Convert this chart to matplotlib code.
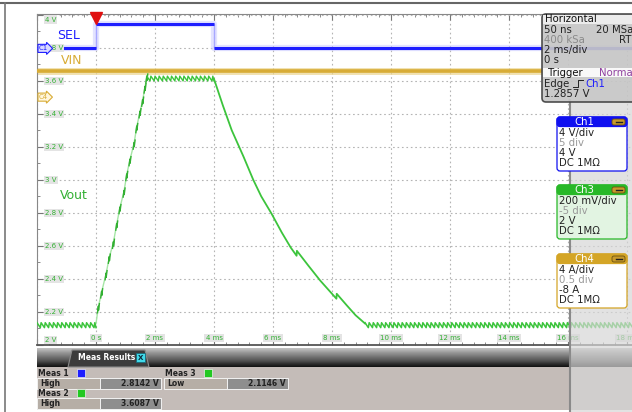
import matplotlib
matplotlib.use('Agg')
import matplotlib.pyplot as plt
import numpy as np
from matplotlib.patches import Rectangle, FancyBboxPatch, Polygon

# Datos (tiempo en ms, tension en V de la escala de Ch3)
x_ticks = [0, 2, 4, 6, 8, 10, 12, 14, 16, 18]
x_labels = ['0 s', '2 ms', '4 ms', '6 ms', '8 ms', '10 ms', '12 ms', '14 ms', '16 ms', '18 ms']
y_ticks = [2.0, 2.2, 2.4, 2.6, 2.8, 3.0, 3.2, 3.4, 3.6, 3.8, 4.0]
y_labels = ['2 V', '2.2 V', '2.4 V', '2.6 V', '2.8 V', '3 V', '3.2 V', '3.4 V', '3.6 V', '3.8 V', '4 V']

# SEL (Ch1)
sel_t = [-2.0, 0.0, 0.0, 4.0, 4.0, 18.2]
sel_v = [3.795, 3.795, 3.944, 3.944, 3.795, 3.795]

# VIN (Ch4)
vin_t = [-2.0, 0.0, 1.0, 2.5, 4.0, 5.5, 7.0, 9.0, 11.0, 14.0, 18.2]
vin_v = [3.661, 3.660, 3.661, 3.660, 3.661, 3.660, 3.661, 3.660, 3.661, 3.660, 3.661]

# Vout (Ch3): subida escalonada
rise_t = [0.0, 0.08, 0.19, 0.34, 0.45, 0.59, 0.70, 0.81, 0.95, 1.04, 1.15, 1.29, 1.38, 1.49, 1.58, 1.66, 1.72]
rise_v = [2.13, 2.23, 2.32, 2.43, 2.53, 2.62, 2.73, 2.83, 2.93, 3.03, 3.12, 3.22, 3.32, 3.41, 3.48, 3.56, 3.62]
# Vout: descarga
fall_t = [4.0, 4.3, 4.6, 5.0, 5.33, 5.6, 5.95, 6.3, 6.6, 6.8, 6.81, 7.2, 7.6, 8.0, 8.15, 8.16, 8.5, 8.8, 9.12]
fall_v = [3.61, 3.45, 3.30, 3.14, 3.00, 2.90, 2.795, 2.68, 2.59, 2.54, 2.57, 2.48, 2.39, 2.31, 2.28, 2.31, 2.24, 2.18, 2.13]
# Rizado
low_rip = (2.105, 2.135)
top_rip = (3.598, 3.627)
rip_period = 0.14

meas_names = ['Meas 1', 'Meas 2', 'Meas 3']
meas_kind = ['High', 'High', 'Low']
meas_vals = ['2.8142 V', '3.6087 V', '2.1146 V']

W, H = 632, 412
GREEN = '#3cc43c'
LGREEN = '#33b033'
BLUE = '#1e1eff'
GOLD = '#d8ac36'


def sierra(t0, t1, lo, hi, period):
    # diente de sierra: baja lento y sube rapido
    ts, vs = [], []
    t = t0
    while t < t1:
        ts += [t, min(t + 0.8 * period, t1)]
        vs += [hi, lo]
        t += period
    return ts, vs


fig = plt.figure(figsize=(W / 100, H / 100), dpi=100)
ax = fig.add_axes([37 / W, 1 - 345 / H, (W - 37) / W, (345 - 14.5) / H])
ax.set_xlim(-2, -2 + (W - 37) / 29.5)
ax.set_ylim(2, 4)

ax.set_xticks(x_ticks + [-2])
ax.set_yticks(y_ticks)
ax.set_xticks(np.arange(-2, 18.3, 0.4), minor=True)
ax.set_yticks(np.arange(2, 4.01, 0.1), minor=True)
ax.tick_params(which='both', direction='in', labelbottom=False, labelleft=False,
               top=True, bottom=True, left=True, right=False, color='#777')
ax.tick_params(which='major', length=4)
ax.tick_params(which='minor', length=2.5)
ax.grid(True, which='major', color='#b4b4b4', linestyle=(0, (1.5, 2.5)), linewidth=0.8)
for s in ['top', 'left']:
    ax.spines[s].set_color('#888')
ax.spines['bottom'].set_color('#555')
ax.spines['bottom'].set_linewidth(1.3)
ax.spines['right'].set_visible(False)

# SEL
ax.plot(sel_t, sel_v, color='#a8a8ff', lw=1.0, zorder=3)
ax.plot(sel_t[:2], sel_v[:2], color=BLUE, lw=2.2, zorder=4, solid_capstyle='butt')
ax.plot(sel_t[2:4], sel_v[2:4], color=BLUE, lw=2.2, zorder=4, solid_capstyle='butt')
ax.plot(sel_t[4:], sel_v[4:], color=BLUE, lw=2.2, zorder=4, solid_capstyle='butt')
ax.plot(sel_t, sel_v, color='#c8c8ff', lw=4.5, alpha=0.5, zorder=2)

# VIN
ax.plot(vin_t, vin_v, color='#ecd590', lw=5.0, alpha=0.7, drawstyle='steps-post', zorder=2)
ax.plot(vin_t, vin_v, color=GOLD, lw=2.6, drawstyle='steps-post', zorder=3)

# Vout
pre_t, pre_v = sierra(-2.0, 0.0, low_rip[0], low_rip[1], rip_period)
top_t, top_v = sierra(rise_t[-1], fall_t[0], top_rip[0], top_rip[1], rip_period)
post_t, post_v = sierra(fall_t[-1], 18.2, low_rip[0], low_rip[1], rip_period)
ax.plot(pre_t, pre_v, color=GREEN, lw=1.1, zorder=5)
ax.plot(rise_t, rise_v, color='#a6e6a6', lw=1.0, zorder=4)
for t, v in zip(rise_t[1:], rise_v[1:]):
    ax.plot([t - 0.03, t, t + 0.006, t + 0.035], [v - 0.035, v + 0.005, v - 0.02, v + 0.02],
            color=LGREEN, lw=1.0, zorder=5)
ax.plot(top_t, top_v, color=GREEN, lw=1.0, zorder=5)
ax.plot(fall_t, fall_v, color=GREEN, lw=1.3, zorder=5)
ax.plot(post_t, post_v, color=GREEN, lw=1.1, zorder=5)

# disparo
ax.plot(0, 3.978, marker='v', ms=8, color='#e01010', clip_on=False, zorder=6)

# etiquetas de ejes dentro del grafico
box = dict(boxstyle='square,pad=0.15', fc='#e4e4e4', ec='none')
for v, lab in zip(y_ticks, y_labels):
    dy = 0
    if v == 4.0:
        dy = -5
    if v == 2.0:
        dy = 5
    ax.annotate(lab, xy=(0, v), xycoords=('axes fraction', 'data'), xytext=(8, dy),
                textcoords='offset pixels', fontsize=5, color=LGREEN, va='center',
                ha='left', bbox=box, zorder=7)
for t, lab in zip(x_ticks, x_labels):
    ax.annotate(lab, xy=(t, 0), xycoords=('data', 'axes fraction'), xytext=(0, 7),
                textcoords='offset pixels', fontsize=5, color=LGREEN, va='center',
                ha='center', bbox=box, zorder=7)

# marcadores de canal
ax.annotate('C1', xy=(0, sel_v[0]), xycoords=('axes fraction', 'data'), xytext=(2, 0),
            textcoords='offset pixels', fontsize=5, color=BLUE, va='center', ha='left',
            bbox=dict(boxstyle='rarrow,pad=0.15', fc='#d8d8ff', ec=BLUE, lw=0.8), zorder=8)
ax.annotate('C4', xy=(0, 3.5), xycoords=('axes fraction', 'data'), xytext=(2, 0),
            textcoords='offset pixels', fontsize=5, color=GOLD, va='center', ha='left',
            bbox=dict(boxstyle='rarrow,pad=0.15', fc='#fff6dd', ec=GOLD, lw=0.8), zorder=8)

# capa superior en pixeles
ov = fig.add_axes([0, 0, 1, 1], zorder=10)
ov.set_xlim(0, W)
ov.set_ylim(H, 0)
ov.axis('off')

ov.plot([0, W], [3, 3], color='#666', lw=1.5)
ov.plot([5, 5], [3, H], color='#777', lw=1.2)

ov.text(57, 35, 'SEL', color=BLUE, fontsize=9, va='center')
ov.text(61, 60, 'VIN', color=GOLD, fontsize=9, va='center')
ov.text(60, 195, 'Vout', color=LGREEN, fontsize=9, va='center')

# panel de medidas
grad = np.linspace(0, 1, 50).reshape(-1, 1)
ov.imshow(grad, extent=(37, W, 367, 348), cmap='Greys', vmin=-0.6, vmax=1.1,
          aspect='auto', zorder=1)
ov.set_xlim(0, W)
ov.set_ylim(H, 0)
ov.add_patch(Polygon([(68, 367), (72, 350), (145, 350), (149, 367)], closed=True,
                     fc='#3c3c3c', ec='#8a8a8a', lw=0.8, zorder=2))
ov.text(78, 358, 'Meas Results', color='white', fontsize=5.5, fontweight='bold',
        va='center', zorder=3)
ov.add_patch(Rectangle((136, 353), 9, 9, fc='#40d8e8', ec='#1a6a7a', lw=0.6, zorder=3))
ov.text(140.5, 357.8, 'X', color='#0a2a3a', fontsize=5, fontweight='bold',
        ha='center', va='center', zorder=4)
ov.add_patch(Rectangle((37, 367), W - 37, 43, fc='#c4bcb8', ec='none', zorder=1))

pos = [(38, 373), (38, 393), (165, 373)]
icon = [BLUE, '#22c822', '#22c822']
for (x0, y0), name, kind, val, col in zip(pos, meas_names, meas_kind, meas_vals, icon):
    ov.text(x0, y0, name, fontsize=5.5, fontweight='bold', color='#222', va='center', zorder=3)
    ov.add_patch(Rectangle((x0 + 39, y0 - 4), 8, 8, fc=col, ec='#eee', lw=0.5, zorder=3))
    ov.add_patch(Rectangle((x0 - 1, y0 + 5), 63, 11, fc='#b6aea6', ec='#f2f2f2', lw=0.7, zorder=2))
    ov.add_patch(Rectangle((x0 + 62, y0 + 5), 61, 11, fc='#8e8e8e', ec='#f2f2f2', lw=0.7, zorder=2))
    ov.text(x0 + 2, y0 + 10.5, kind, fontsize=5.5, fontweight='bold', color='#222',
            va='center', zorder=3)
    ov.text(x0 + 121, y0 + 10.5, val, fontsize=5.5, fontweight='bold', color='#222',
            va='center', ha='right', zorder=3)

# franja gris a la derecha
ov.add_patch(Rectangle((570, 100), W - 570, H - 100, fc='#d6d6d6', ec='none', alpha=0.7, zorder=5))
ov.plot([570, 570], [100, H], color='#8a8a8a', lw=1.5, zorder=5)

# caja Horizontal / Trigger
ov.add_patch(FancyBboxPatch((542, 14), 110, 88, boxstyle='round,pad=0,rounding_size=4',
                            fc='#c6c6c6', ec='#404040', lw=1.2, alpha=0.92, zorder=6))
ov.add_patch(Rectangle((543, 14.5), 100, 9, fc='#ececec', ec='none', zorder=6))
ov.add_patch(Rectangle((543, 68), 100, 9, fc='#f8f8f8', ec='none', zorder=6))
fs = 7.3
ov.text(545, 18.5, 'Horizontal', fontsize=fs, va='center', color='#111', zorder=7)
ov.text(544, 29.5, '50 ns', fontsize=fs, va='center', color='#222', zorder=7)
ov.text(596, 29.5, '20 MSa/s', fontsize=fs, va='center', color='#222', zorder=7, clip_on=True)
ov.text(544, 39.5, '400 kSa', fontsize=fs, va='center', color='#8a8a8a', zorder=7)
ov.text(619, 39.5, 'RT', fontsize=fs, va='center', color='#222', zorder=7)
ov.text(544, 49.5, '2 ms/div', fontsize=fs, va='center', color='#222', zorder=7)
ov.text(544, 59.5, '0 s', fontsize=fs, va='center', color='#222', zorder=7)
ov.text(548, 72.5, 'Trigger', fontsize=fs, va='center', color='#111', zorder=7)
ov.text(599, 72.5, 'Normal', fontsize=fs, va='center', color='#9040a0', zorder=7)
ov.text(544, 83.5, 'Edge', fontsize=fs, va='center', color='#222', zorder=7)
ov.plot([573, 578, 578, 583], [87, 87, 80, 80], color='#222', lw=0.7, zorder=7)
ov.text(585, 83.5, 'Ch1', fontsize=fs, va='center', color=BLUE, zorder=7)
ov.text(544, 94, '1.2857 V', fontsize=fs, va='center', color='#222', zorder=7)

# cajas de canal
canales = [
    ('Ch1', 117, '#1010f0', 'white', ['4 V/div', '5 div', '4 V', 'DC 1M\u03a9']),
    ('Ch3', 185, '#28b828', '#e2f4e2', ['200 mV/div', '-5 div', '2 V', 'DC 1M\u03a9']),
    ('Ch4', 254, '#d4a526', 'white', ['4 A/div', '0.5 div', '-8 A', 'DC 1M\u03a9']),
]
for name, y0, hc, bc, lines in canales:
    ov.add_patch(FancyBboxPatch((557, y0), 70, 54, boxstyle='round,pad=0,rounding_size=3',
                                fc=bc, ec=hc, lw=0.9, zorder=6))
    ov.add_patch(FancyBboxPatch((557, y0), 70, 9.5, boxstyle='round,pad=0,rounding_size=3',
                                fc=hc, ec=hc, lw=0.9, zorder=7))
    ov.text(584, y0 + 5, name, fontsize=fs, color='white', ha='center', va='center', zorder=8)
    ov.add_patch(FancyBboxPatch((612, y0 + 2), 13, 6, boxstyle='round,pad=0,rounding_size=2',
                                fc='#c89a2a', ec='#6a5010', lw=0.6, zorder=8))
    ov.plot([615.5, 621.5], [y0 + 5, y0 + 5], color='#222', lw=1.0, zorder=9)
    for i, txt in enumerate(lines):
        ov.text(559, y0 + 16 + 10 * i, txt, fontsize=fs, va='center',
                color='#999' if i == 1 else '#222', zorder=8)

fig.savefig('out.png', dpi=100)
